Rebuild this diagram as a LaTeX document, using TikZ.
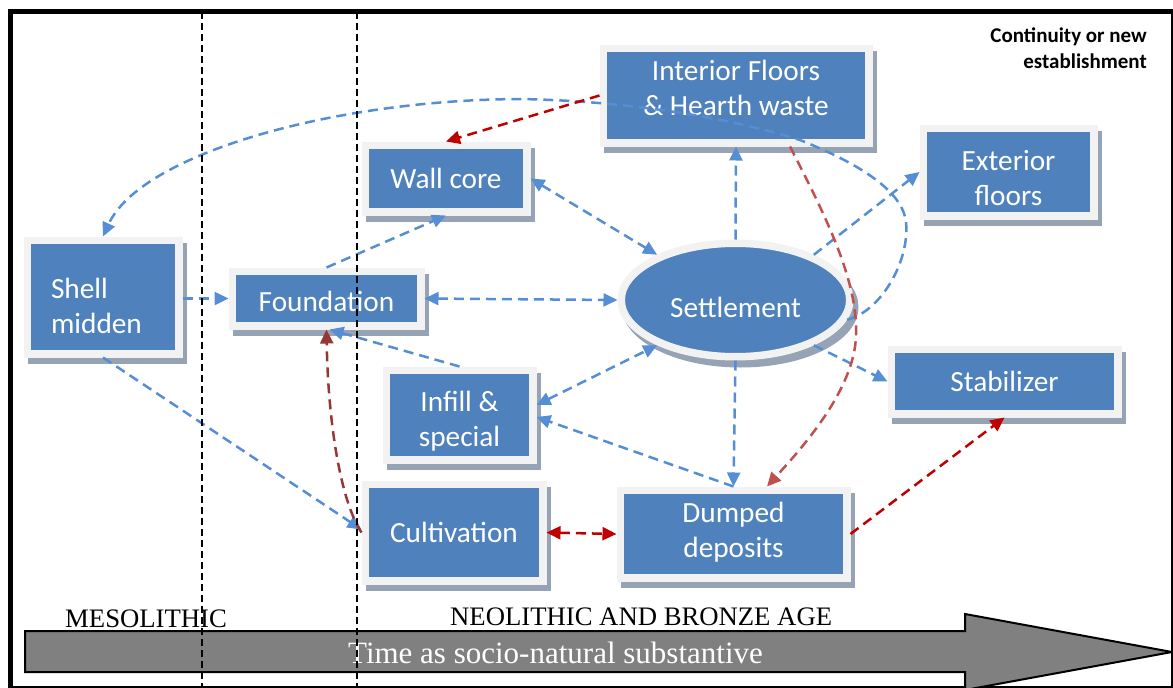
\documentclass[tikz,border=0pt]{standalone}
\usepackage{fontspec}
\setmainfont{Carlito}
\newfontfamily\serifface{Liberation Serif}
\usetikzlibrary{arrows.meta,shapes.geometric,shadows}

\definecolor{boxblue}{HTML}{4F81BD}
\definecolor{rimgray}{HTML}{F2F2F2}
\definecolor{shadegray}{HTML}{95A3B5}
\definecolor{linkblue}{HTML}{558ED5}
\definecolor{linkred}{HTML}{C00000}
\definecolor{linkdark}{HTML}{953735}
\definecolor{linklight}{HTML}{C0504D}
\definecolor{timegray}{HTML}{808080}

\tikzset{
  block/.style={rectangle, draw=rimgray, fill=boxblue, line width=7.5pt,
    inner sep=0pt,
    general shadow={shadow xshift=4pt, shadow yshift=-6pt,
      fill=shadegray, draw=shadegray, line width=7.5pt}},
  boxtext/.style={text=white, align=center, inner sep=0pt,
    font=\fontsize{29.3}{35}\selectfont},
  link/.style={line width=2.5pt, dash pattern=on 10pt off 6pt,
    >={Triangle[length=14pt,width=13pt]}},
  bluelink/.style={link, draw=linkblue},
  redlink/.style={link, draw=linkred},
  darklink/.style={link, draw=linkdark},
  lightlink/.style={link, draw=linklight},
  period/.style={line width=1.5pt, dash pattern=on 7pt off 4pt},
  era/.style={font=\serifface\fontsize{26.7}{30}\selectfont, inner sep=0pt, anchor=base west},
}

\begin{document}
\begin{tikzpicture}[x=1pt, y=-1pt]
\useasboundingbox (0,0) rectangle (1173,688);
\clip (0,0) rectangle (1173,688);

% outer frame
\draw[line width=5.5pt] (10.5,11.5) rectangle (1174,689);

% time arrow along the bottom
\draw[line width=2pt, fill=timegray] (25,631) -- (965,631) -- (965,614)
  -- (1172,652) -- (965,690) -- (965,672) -- (25,672) -- cycle;
\node[font=\serifface\fontsize{31}{34}\selectfont, text=white, inner sep=0pt,
  anchor=base] (timetext) at (555.5,663) {Time as socio-natural substantive};

% period labels
\node[era] (meso) at (65,627) {MESOLITHIC};
\node[era] (neo) at (450,625) {NEOLITHIC AND BRONZE AGE};

% legend text
\node[font=\bfseries\fontsize{21}{25.5}\selectfont, align=right, inner sep=0pt,
  anchor=north east] (legend) at (1147,28) {Continuity or new\\establishment};

% components
\node[block, minimum width=151.5pt, minimum height=113.5pt] (shell) at (103,297) {};
\node[block, minimum width=188.5pt, minimum height=54.5pt] (found) at (326.5,298.5) {};
\node[block, minimum width=161.5pt, minimum height=66.5pt] (wall) at (446,178.5) {};
\node[block, minimum width=265.5pt, minimum height=94.5pt] (inter) at (736,95.5) {};
\node[block, minimum width=170.5pt, minimum height=87.5pt] (ext) at (1008.5,172) {};
\node[block, minimum width=226.5pt, minimum height=64.5pt] (stab) at (1004.5,381.5) {};
\node[block, minimum width=146.5pt, minimum height=89.5pt] (infill) at (459.5,415) {};
\node[block, minimum width=177.5pt, minimum height=96.5pt] (cult) at (454,532.5) {};
\node[block, minimum width=226.5pt, minimum height=87.5pt] (dump) at (733.5,534) {};
\node[block, ellipse, minimum width=228.5pt, minimum height=113.5pt,
  general shadow={shadow xshift=5pt, shadow yshift=-7pt,
    fill=shadegray, draw=shadegray, line width=7.5pt}] (settle) at (735.5,300) {};

% component labels
\node[boxtext, align=left, text width=104pt] (shelltext) at ([yshift=-9pt]shell.center) {Shell\\midden};
\node[boxtext] (foundtext) at ([yshift=-3pt]found.center) {Foundation};
\node[boxtext] (walltext) at (wall.center) {Wall core};
\node[boxtext] (intertext) at ([yshift=8pt]inter.center) {Interior Floors\\\& Hearth waste};
\node[boxtext] (exttext) at ([yshift=-6pt]ext.center) {Exterior\\floors};
\node[boxtext] (stabtext) at (stab.center) {Stabilizer};
\node[boxtext] (infilltext) at ([yshift=-6pt]infill.center) {Infill \&\\special};
\node[boxtext] (culttext) at (cult.center) {Cultivation};
\node[boxtext] (dumptext) at ([yshift=2pt]dump.center) {Dumped\\deposits};
\node[boxtext] (settletext) at ([yshift=-7pt]settle.center) {Settlement};

% blue relations
\draw[bluelink, ->] (settle.-10) .. controls (880,312) and (910,262) .. (906,222)
  .. controls (903,195) and (870,168) .. (800,140)
  .. controls (730,118) and (630,101) .. (520,99)
  .. controls (330,100) and (140,155) .. (shell.north);
\draw[bluelink, <->] (wall.east) -- (settle.150);
\draw[bluelink, ->] (found.north) -- (wall.south);
\draw[bluelink, ->] (found.west -| shell.east) -- (found.west);
\draw[bluelink, <->] (found.east) -- (settle.west);
\draw[bluelink, ->] (settle.north) -- (inter.south);
\draw[bluelink, ->] (settle.30) -- (ext.west);
\draw[bluelink, ->] (settle.-30) -- (stab.west);
\draw[bluelink, ->] (settle.south) -- (dump.north);
\draw[bluelink, ->] (dump.north) -- ([yshift=-2pt]infill.east);
\draw[bluelink, <->] ([yshift=10pt]infill.east) -- (settle.210);
\draw[bluelink, ->] (infill.north) -- ([xshift=3pt]found.south);
\draw[bluelink, ->] (shell.south) -- ([yshift=3pt]cult.west);

% red relations
\draw[redlink, ->] (inter.west) -- (wall.north);
\draw[redlink, <->] (cult.east) -- (dump.west);
\draw[redlink, ->] (dump.east) -- (stab.south);
\draw[darklink, ->] (cult.west) .. controls (340,500) and (328,420) .. (found.south);
\draw[lightlink, ->] ([xshift=54pt]inter.south) .. controls (825,215) and (858,280) .. (856,335)
  .. controls (855,390) and (800,450) .. ([xshift=33.5pt]dump.north);

% period boundaries
\draw[period] (202,12) -- (202,688);
\draw[period] (357,12) -- (357,688);
\end{tikzpicture}
\end{document}
